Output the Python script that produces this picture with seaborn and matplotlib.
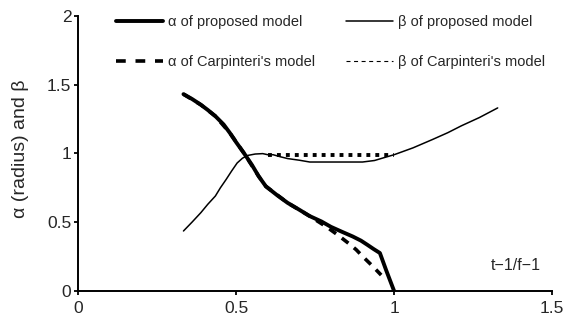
import matplotlib
matplotlib.use("Agg")
import matplotlib.pyplot as plt
from matplotlib.lines import Line2D
import seaborn as sns
import pandas as pd

sns.set_style("ticks")
plt.rcParams['font.family'] = ['Liberation Sans', 'DejaVu Sans']

alpha_prop_x = [0.333, 0.36, 0.388, 0.41, 0.434, 0.46, 0.48, 0.50, 0.525, 0.55, 0.571, 0.594, 0.63, 0.663, 0.70, 0.732, 0.77, 0.80, 0.835, 0.869, 0.895, 0.915, 0.935, 0.955, 0.975, 1.0]
alpha_prop_y = [1.43, 1.395, 1.353, 1.315, 1.27, 1.21, 1.148, 1.08, 1.00, 0.915, 0.834, 0.76, 0.695, 0.64, 0.59, 0.545, 0.505, 0.466, 0.43, 0.396, 0.366, 0.336, 0.305, 0.276, 0.15, 0.0]

alpha_carp_x = [0.333, 0.388, 0.434, 0.48, 0.525, 0.571, 0.594, 0.663, 0.732, 0.786, 0.82, 0.856, 0.88, 0.901, 0.93, 0.959]
alpha_carp_y = [1.43, 1.353, 1.27, 1.148, 1.00, 0.834, 0.76, 0.64, 0.545, 0.466, 0.41, 0.346, 0.30, 0.25, 0.185, 0.116]

beta_prop_x = [0.333, 0.36, 0.388, 0.41, 0.434, 0.45, 0.468, 0.485, 0.503, 0.52, 0.537, 0.56, 0.584, 0.60, 0.617, 0.64, 0.663, 0.70, 0.733, 0.78, 0.835, 0.90, 0.938, 0.97, 1.0, 1.06, 1.121, 1.17, 1.213, 1.27, 1.328]
beta_prop_y = [0.436, 0.50, 0.569, 0.63, 0.69, 0.75, 0.81, 0.87, 0.93, 0.965, 0.985, 0.995, 0.998, 0.99, 0.99, 0.975, 0.962, 0.95, 0.937, 0.937, 0.937, 0.937, 0.948, 0.97, 0.99, 1.04, 1.10, 1.15, 1.2, 1.26, 1.33]

beta_carp_x = [0.60, 1.0]
beta_carp_y = [0.99, 0.99]

labels = ["\u03b1 of proposed model", "\u03b2 of proposed model",
          "\u03b1 of Carpinteri's model", "\u03b2 of Carpinteri's model"]

fig = plt.figure(figsize=(5.65, 3.2), dpi=100)
ax = fig.add_axes([0.1386, 0.0906, 0.8384, 0.8604])

df_ap = pd.DataFrame({"x": alpha_prop_x, "y": alpha_prop_y})
df_ac = pd.DataFrame({"x": alpha_carp_x, "y": alpha_carp_y})
df_bp = pd.DataFrame({"x": beta_prop_x, "y": beta_prop_y})
df_bc = pd.DataFrame({"x": beta_carp_x, "y": beta_carp_y})

sns.lineplot(data=df_ac, x="x", y="y", ax=ax, sort=False, estimator=None, color="black",
             lw=2.6, linestyle=(0, (2.3, 2.0)), solid_capstyle="butt")
sns.lineplot(data=df_ap, x="x", y="y", ax=ax, sort=False, estimator=None, color="black",
             lw=2.8)
sns.lineplot(data=df_bc, x="x", y="y", ax=ax, sort=False, estimator=None, color="black",
             lw=2.8, linestyle=(0, (1.0, 1.3)))
sns.lineplot(data=df_bp, x="x", y="y", ax=ax, sort=False, estimator=None, color="black",
             lw=1.1)

ax.set_xlim(0, 1.5)
ax.set_ylim(0, 2)
ax.set_xticks([0, 0.5, 1, 1.5])
ax.set_xticklabels(["0", "0.5", "1", "1.5"])
ax.set_yticks([0, 0.5, 1, 1.5, 2])
ax.set_yticklabels(["0", "0.5", "1", "1.5", "2"])
ax.tick_params(axis="both", labelsize=12.5, length=3, width=1.3, color="black")
ax.tick_params(axis="x", pad=4)
ax.tick_params(axis="y", pad=2)
for s in ["top", "right"]:
    ax.spines[s].set_visible(False)
for s in ["left", "bottom"]:
    ax.spines[s].set_linewidth(1.4)
    ax.spines[s].set_color("black")
ax.set_xlabel("")
ax.set_ylabel("")
fig.text(21 / 565, 1 - 149 / 320, "\u03b1 (radius) and \u03b2", fontsize=14,
         rotation=90, ha="center", va="center")
ax.text(1.307, 0.183, "t\u22121/f\u22121", fontsize=11.5, ha="left", va="center")

handles = [
    Line2D([], [], color="black", lw=2.8),
    Line2D([], [], color="black", lw=2.6, linestyle=(0, (2.7, 2.7)), solid_capstyle="butt"),
    Line2D([], [], color="black", lw=1.1),
    Line2D([], [], color="black", lw=0.8, linestyle=(0, (3.6, 3.2))),
]
order = [labels[0], labels[2], labels[1], labels[3]]
leg = fig.legend(handles, order, ncol=2, loc="upper left",
                 bbox_to_anchor=(116 / 565, 1 - 15 / 320), bbox_transform=fig.transFigure,
                 frameon=False, fontsize=10.5, borderpad=0, borderaxespad=0,
                 handlelength=3.22, handletextpad=0.34, columnspacing=2.1,
                 labelspacing=1.8)

fig.savefig("out.png", dpi=100)
